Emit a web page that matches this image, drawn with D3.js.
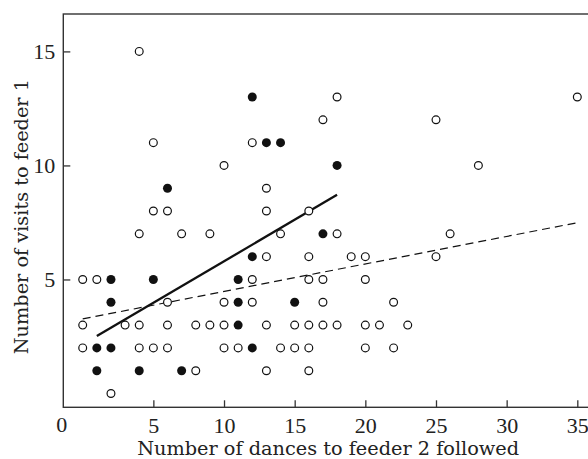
<!DOCTYPE html>
<html lang="en">
<head>
<meta charset="UTF-8">
<script src="https://d3js.org/d3.v7.min.js"></script>
<style>
    body { margin: 0; background: #fff; }
    svg { display: block; }
    .tick text { font-family: 'Liberation Serif', serif; font-size: 22px; fill: #222; }
    .tick line { stroke: #333; stroke-width: 1.3px; }
    .title { font-family: 'DejaVu Serif', serif; font-size: 19.3px; fill: #222; }
</style>
</head>
<body>
<svg id="chart" width="588" height="459"></svg>
<script>
    // dances followed (x) and visits to feeder 1 (y)
    const openX = [0,0,0, 1, 2, 3, 4,4,4,4, 5,5,5, 6,6,6,6, 7, 8,8, 9,9, 10,10,10,10, 11, 12,12,12,
                   13,13,13,13,13, 14,14, 15,15, 16,16,16,16,16,16, 17,17,17,17, 18,18,18, 19,
                   20,20,20,20, 21, 22,22, 23, 25,25, 26, 28, 35];
    const openY = [5,3,2, 5, 0, 3, 15,7,3,2, 11,8,2, 8,4,3,2, 7, 3,1, 7,3, 10,4,3,2, 2, 11,5,4,
                   9,8,6,3,1, 7,2, 3,2, 8,6,5,3,2,1, 12,5,4,3, 13,7,3, 6,
                   6,5,3,2, 3, 4,2, 3, 12,6, 7, 10, 13];
    const filledX = [1,1, 2,2,2, 4, 5, 6, 7, 11,11,11, 12,12,12, 13, 14, 15, 17, 18];
    const filledY = [2,1, 5,4,2, 1, 5, 9, 1, 5,4,3, 13,6,2, 11, 11, 4, 7, 10];

    // fitted lines, end points
    const solidX = [1, 18];
    const solidY = [2.52, 8.71];
    const dashedX = [0, 35];
    const dashedY = [3.27, 7.49];

    const xTicks = [5, 10, 15, 20, 25, 30, 35];
    const yTicks = [5, 10, 15];

    const svg = d3.select("#chart");
    const plotLeft = 63.3, plotRight = 593, plotTop = 14, plotBottom = 407.3;

    const x = d3.scaleLinear().domain([-1.373, 36.11]).range([plotLeft, plotRight]);
    const y = d3.scaleLinear().domain([-0.605, 16.64]).range([plotBottom, plotTop]);

    // axes with inward ticks
    svg.append("g")
        .attr("transform", `translate(0,${plotBottom})`)
        .call(d3.axisBottom(x).tickValues(xTicks).tickSize(-7).tickPadding(10).tickFormat(d3.format("d")))
        .call(g => g.select(".domain").remove());

    svg.append("g")
        .attr("transform", `translate(${plotLeft},0)`)
        .call(d3.axisLeft(y).tickValues(yTicks).tickSize(-7).tickPadding(8).tickFormat(d3.format("d")))
        .call(g => g.select(".domain").remove());

    // the zero sits on the corner of the frame
    svg.append("text")
        .attr("x", plotLeft - 1.5)
        .attr("y", plotBottom + 24.3)
        .attr("text-anchor", "middle")
        .style("font-family", "'Liberation Serif', serif")
        .style("font-size", "22px")
        .style("fill", "#222")
        .text("0");

    svg.append("rect")
        .attr("x", plotLeft).attr("y", plotTop)
        .attr("width", plotRight - plotLeft).attr("height", plotBottom - plotTop)
        .attr("fill", "none").attr("stroke", "#333").attr("stroke-width", 1.4);

    const line = d3.line().x(d => x(d[0])).y(d => y(d[1]));

    svg.append("path")
        .attr("d", line(d3.zip(dashedX, dashedY)))
        .attr("fill", "none").attr("stroke", "#111")
        .attr("stroke-width", 1.2).attr("stroke-dasharray", "8,5");

    svg.append("path")
        .attr("d", line(d3.zip(solidX, solidY)))
        .attr("fill", "none").attr("stroke", "#111").attr("stroke-width", 2.3);

    svg.selectAll(".open")
        .data(d3.zip(openX, openY))
        .enter().append("circle")
        .attr("class", "open")
        .attr("cx", d => x(d[0])).attr("cy", d => y(d[1]))
        .attr("r", 3.9)
        .attr("fill", "#fff").attr("stroke", "#111").attr("stroke-width", 1.2);

    svg.selectAll(".filled")
        .data(d3.zip(filledX, filledY))
        .enter().append("circle")
        .attr("class", "filled")
        .attr("cx", d => x(d[0])).attr("cy", d => y(d[1]))
        .attr("r", 4.5)
        .attr("fill", "#111");

    svg.append("text")
        .attr("class", "title")
        .attr("x", (plotLeft + plotRight) / 2)
        .attr("y", 455)
        .attr("text-anchor", "middle")
        .text("Number of dances to feeder 2 followed");

    svg.append("text")
        .attr("class", "title")
        .attr("transform", `translate(28,${(plotTop + plotBottom) / 2 + 6}) rotate(-90)`)
        .attr("text-anchor", "middle")
        .text("Number of visits to feeder 1");
</script>
</body>
</html>
